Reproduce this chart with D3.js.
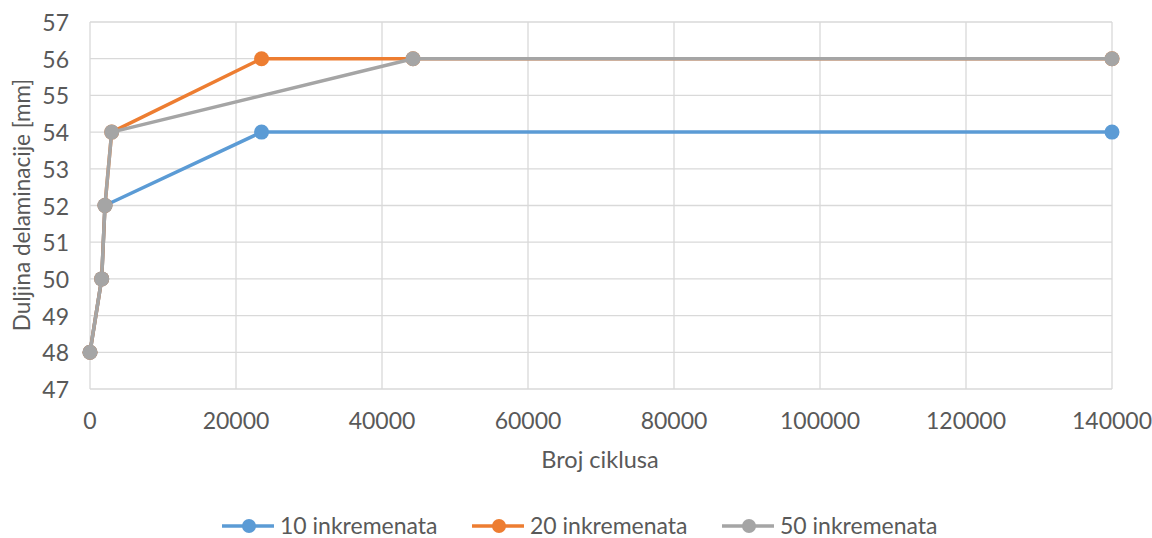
<!DOCTYPE html>
<html><head><meta charset="utf-8">
<script src="https://cdn.jsdelivr.net/npm/d3@7/dist/d3.min.js"></script>
<style>body{margin:0;background:#fff}svg{display:block}text{font-family:Lato,"Liberation Sans",sans-serif;fill:#595959}</style>
</head><body><svg id="c" width="1152" height="538"></svg>
<script>
const seriesNames = ["10 inkremenata","20 inkremenata","50 inkremenata"];
const colors = ["#5b9bd5","#ed7d31","#a5a5a5"];
const xs10 = [0,1600,2050,23500,140000];
const ys10 = [48,50,52,54,54];
const xs20 = [0,1600,2050,2970,23500,44250,140000];
const ys20 = [48,50,52,54,56,56,56];
const xs50 = [0,1600,2050,2970,44250,140000];
const ys50 = [48,50,52,54,56,56];
const xTicks = [0,20000,40000,60000,80000,100000,120000,140000];
const yTicks = [47,48,49,50,51,52,53,54,55,56,57];

const svg = d3.select("#c");
const x = d3.scaleLinear().domain([0,140000]).range([90,1112]);
const y = d3.scaleLinear().domain([47,57]).range([389,22]);

svg.append("g").selectAll("line").data(yTicks).join("line")
  .attr("x1",90).attr("x2",1112).attr("y1",d=>y(d)).attr("y2",d=>y(d))
  .attr("stroke","#d9d9d9").attr("stroke-width",1.3);
svg.append("g").selectAll("line").data(xTicks).join("line")
  .attr("y1",22).attr("y2",389).attr("x1",d=>x(d)).attr("x2",d=>x(d))
  .attr("stroke","#d9d9d9").attr("stroke-width",1.3);

svg.append("g").selectAll("text").data(yTicks).join("text")
  .attr("x",69).attr("y",d=>y(d)+1).attr("dy","0.35em").attr("text-anchor","end")
  .attr("font-size",23).text(d=>d);
svg.append("g").selectAll("text").data(xTicks).join("text")
  .attr("x",d=>x(d)).attr("y",421).attr("dy","0.35em").attr("text-anchor","middle")
  .attr("font-size",23).text(d=>d);

svg.append("text").attr("x",600).attr("y",460).attr("dy","0.35em").attr("text-anchor","middle")
  .attr("font-size",23.5).text("Broj ciklusa");
svg.append("text").attr("transform","translate(22,205) rotate(-90)").attr("dy","0.35em")
  .attr("text-anchor","middle").attr("font-size",22.5).text("Duljina delaminacije [mm]");

const data = [
  xs10.map((v,i)=>[v,ys10[i]]),
  xs20.map((v,i)=>[v,ys20[i]]),
  xs50.map((v,i)=>[v,ys50[i]])
];
const line = d3.line().x(d=>x(d[0])).y(d=>y(d[1]));
data.forEach((s,i)=>{
  const g = svg.append("g");
  g.append("path").attr("d",line(s)).attr("fill","none").attr("stroke",colors[i])
    .attr("stroke-width",3.5).attr("stroke-linejoin","round");
  g.selectAll("circle").data(s).join("circle").attr("cx",d=>x(d[0])).attr("cy",d=>y(d[1]))
    .attr("r",7.5).attr("fill",colors[i]);
});

const legX = [222,472,722];
seriesNames.forEach((n,i)=>{
  const g = svg.append("g").attr("transform",`translate(${legX[i]},526)`);
  g.append("line").attr("x1",0).attr("x2",52).attr("stroke",colors[i]).attr("stroke-width",3.5);
  g.append("circle").attr("cx",27).attr("r",7).attr("fill",colors[i]);
  g.append("text").attr("x",58).attr("dy","0.35em").attr("font-size",23).text(n);
});
</script></body></html>
